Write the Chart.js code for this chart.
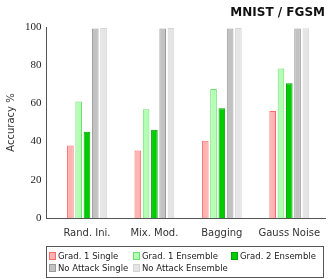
<!DOCTYPE html>
<html>
<head>
<meta charset="utf-8">
<script src="https://cdn.jsdelivr.net/npm/chart.js@4"></script>
<style>
  html, body { margin: 0; padding: 0; background: #fff; }
  #wrap { position: relative; width: 332px; height: 279px; }
  #legend {
    position: absolute; left: 46px; top: 246px; width: 274px; height: 30px;
    border: 1px solid #555; display: grid;
    grid-template-columns: 84px 98px auto; padding-left: 2px;
    font: 8.5px "DejaVu Sans", sans-serif; color: #222; align-content: center; row-gap: 2px;
  }
  #legend span { display: flex; align-items: center; white-space: nowrap; height: 10px; }
  #legend i { display: inline-block; width: 5px; height: 6px; border: 1px solid; margin-right: 2px; }
</style>
</head>
<body>
<div id="wrap">
  <canvas id="chart" width="332" height="279"></canvas>
  <div id="legend"></div>
</div>
<script>
// data
const categories = ['Rand. Ini.', 'Mix. Mod.', 'Bagging', 'Gauss Noise'];
const seriesNames = ['Grad. 1 Single', 'Grad. 1 Ensemble', 'Grad. 2 Ensemble', 'No Attack Single', 'No Attack Ensemble'];
const grad1Single = [38, 35.3, 40.5, 56];
const grad1Ensemble = [61, 57, 67.5, 78.3];
const grad2Ensemble = [45.2, 46.2, 57.4, 70.6];
const noAttackSingle = [99.2, 99.2, 99.2, 99.2];
const noAttackEnsemble = [99.5, 99.5, 99.5, 99.4];
const yTicks = [0, 20, 40, 60, 80, 100];

const fills = ['#ffb3b3', '#b3ffb3', '#00cc00', '#c2c2c2', '#e5e5e5'];
const borders = ['#ff6b6b', '#70dd70', '#00a000', '#9a9a9a', '#d4d4d4'];
const allSeries = [grad1Single, grad1Ensemble, grad2Ensemble, noAttackSingle, noAttackEnsemble];

const datasets = allSeries.map((vals, k) => ({
  label: seriesNames[k],
  data: vals.map((v, i) => ({ x: i, y: v })),
  backgroundColor: fills[k],
  borderColor: borders[k],
  borderWidth: 1,
  categoryPercentage: 0.615,
  barPercentage: 0.8
}));

const ctx = document.getElementById('chart').getContext('2d');
const chart = new Chart(ctx, {
  type: 'bar',
  data: { datasets },
  options: {
    responsive: false,
    animation: false,
    layout: { padding: { left: 0, right: 7, top: 0, bottom: 33 } },
    plugins: {
      legend: { display: false },
      tooltip: { enabled: false },
      title: {
        display: true, text: 'MNIST / FGSM', align: 'end', color: '#111',
        font: { family: 'DejaVu Sans', size: 12, weight: 'bold' },
        padding: { top: 6, bottom: 6.6 }
      }
    },
    scales: {
      x: {
        type: 'linear', min: -0.6, max: 3.53, offset: false,
        afterBuildTicks: s => { s.ticks = categories.map((c, i) => ({ value: i })); },
        afterFit: s => { s.height = 28; },
        grid: { display: false, drawTicks: false },
        border: { color: '#555' },
        ticks: {
          callback: v => categories[v] ?? '', padding: 9, color: '#333',
          font: { family: 'DejaVu Sans', size: 10 }, maxRotation: 0
        }
      },
      y: {
        min: 0, max: 100,
        afterBuildTicks: s => { s.ticks = yTicks.map(v => ({ value: v })); },
        afterFit: s => { s.width = 46.5; },
        grid: { display: false, drawTicks: false },
        border: { color: '#555' },
        ticks: { padding: 5, color: '#222', font: { family: 'Liberation Serif', size: 11 } },
        title: {
          display: true, text: 'Accuracy %', color: '#333', padding: { top: 5, bottom: 0 },
          font: { family: 'DejaVu Sans', size: 10 }
        }
      }
    }
  }
});

// legend
const legend = document.getElementById('legend');
seriesNames.forEach((name, k) => {
  const s = document.createElement('span');
  s.innerHTML = `<i style="background:${fills[k]};border-color:${borders[k]}"></i>${name}`;
  legend.appendChild(s);
});
</script>
</body>
</html>
